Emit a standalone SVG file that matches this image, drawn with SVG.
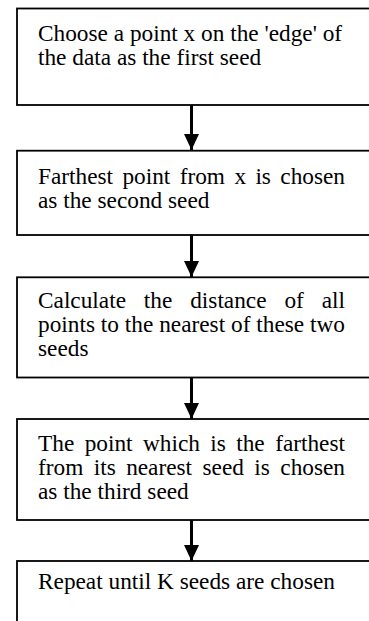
<svg xmlns="http://www.w3.org/2000/svg" width="369" height="621" viewBox="0 0 369 621">
<style>
.box{fill:#fff;stroke:#000;stroke-width:1.8}
.t{font-family:"Liberation Serif","Times New Roman",serif;font-size:23.3px;fill:#000}
.c{stroke:#000;stroke-width:3;fill:none}
</style>
<defs>
<marker id="ah" viewBox="0 0 16 15" refX="16" refY="7.5" markerWidth="16" markerHeight="15" markerUnits="userSpaceOnUse" orient="auto">
<path d="M0,0 L16,7.5 L0,15 z" fill="#000"/>
</marker>
</defs>
<rect width="369" height="621" fill="#fff"/>
<g id="connectors">
<line class="c" x1="191.5" y1="105" x2="191.5" y2="150" marker-end="url(#ah)"/>
<line class="c" x1="191.5" y1="235" x2="191.5" y2="277" marker-end="url(#ah)"/>
<line class="c" x1="191.5" y1="378" x2="191.5" y2="419" marker-end="url(#ah)"/>
<line class="c" x1="191.5" y1="520" x2="191.5" y2="561" marker-end="url(#ah)"/>
</g>
<g id="node1">
<rect class="box" x="17" y="8.5" width="420" height="96.5"/>
<text class="t" x="38" y="40.7">Choose a point x on the 'edge' of</text>
<text class="t" x="38" y="65">the data as the first seed</text>
</g>
<g id="node2">
<rect class="box" x="17" y="150.7" width="420" height="84.3"/>
<text class="t" y="184"><tspan x="38">Farthest</tspan><tspan x="122.44">point</tspan><tspan x="179.71">from</tspan><tspan x="234.38">x</tspan><tspan x="255.4">is</tspan><tspan x="280.31">chosen</tspan></text>
<text class="t" x="38" y="208">as the second seed</text>
</g>
<g id="node3">
<rect class="box" x="17" y="277.3" width="420" height="100.2"/>
<text class="t" y="307.7"><tspan x="38">Calculate</tspan><tspan x="143.87">the</tspan><tspan x="190.21">distance</tspan><tspan x="284.43">of</tspan><tspan x="321.71">all</tspan></text>
<text class="t" y="331.7"><tspan x="38">points</tspan><tspan x="100.84">to</tspan><tspan x="124.84">the</tspan><tspan x="159.18">nearest</tspan><tspan x="231.04">of</tspan><tspan x="256.32">these</tspan><tspan x="310.07">two</tspan></text>
<text class="t" x="38" y="356">seeds</text>
</g>
<g id="node4">
<rect class="box" x="17" y="419" width="420" height="101"/>
<text class="t" y="450.7"><tspan x="38">The</tspan><tspan x="84.64">point</tspan><tspan x="142.95">which</tspan><tspan x="210.31">is</tspan><tspan x="236.26">the</tspan><tspan x="275.14">farthest</tspan></text>
<text class="t" y="474.7"><tspan x="38">from</tspan><tspan x="93.71">its</tspan><tspan x="126.14">nearest</tspan><tspan x="202.54">seed</tspan><tspan x="254.35">is</tspan><tspan x="280.3">chosen</tspan></text>
<text class="t" x="38" y="498.7">as the third seed</text>
</g>
<g id="node5">
<rect class="box" x="17" y="561" width="420" height="80"/>
<text class="t" x="38" y="589">Repeat until K seeds are chosen</text>
</g>
</svg>
